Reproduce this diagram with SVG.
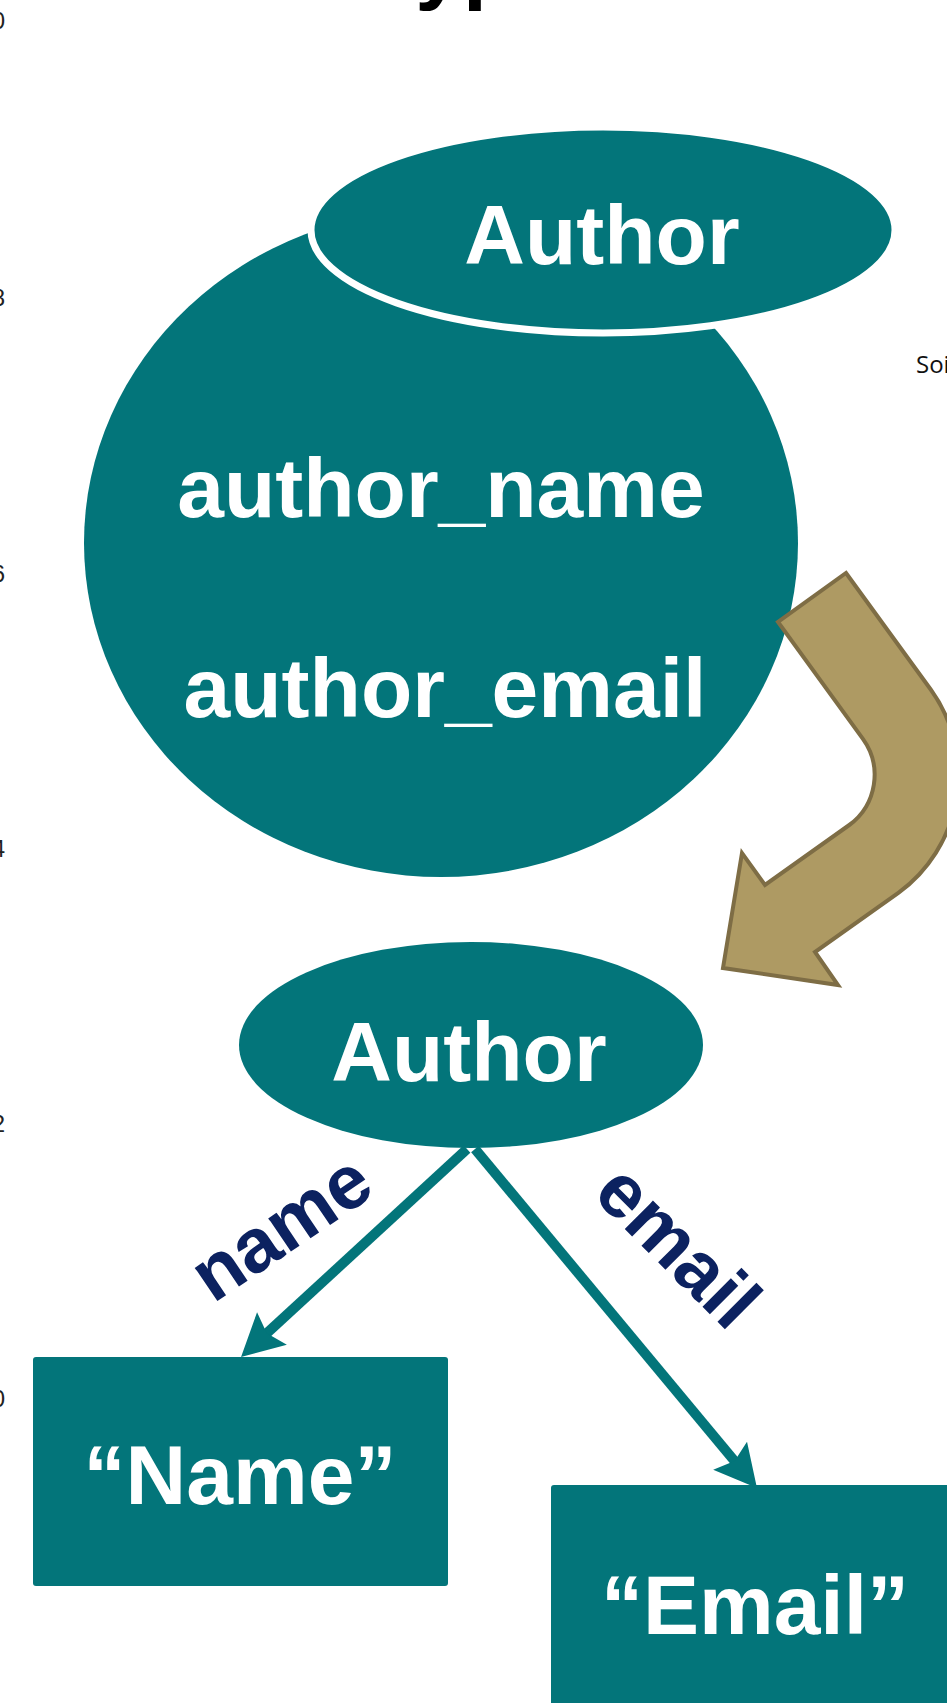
<svg xmlns="http://www.w3.org/2000/svg" width="947" height="1703" viewBox="0 0 947 1703">
  <defs>
    <style>
      .teal { fill: #03757a; }
      .lbl { font-family: "Liberation Sans", Arial, sans-serif; font-weight: bold; fill: #ffffff; text-anchor: middle; font-size: 84px; }
      .edge-lbl { font-family: "Liberation Sans", Arial, sans-serif; font-weight: bold; fill: #0c2260; text-anchor: middle; font-size: 76px; }
      .edge { stroke: #03757a; stroke-width: 10; fill: none; marker-end: url(#head); }
      .tick { font-family: "Liberation Sans", Arial, sans-serif; font-size: 24px; fill: #222; text-anchor: end; }
    </style>
    <marker id="head" markerUnits="userSpaceOnUse" orient="auto" viewBox="-44 -24 46 48" refX="-32" refY="0" markerWidth="46" markerHeight="48">
      <path d="M0,0 L-42,-22 L-35,0 L-42,22 Z" fill="#03757a"/>
    </marker>
  </defs>

  <!-- title, runs off the top edge -->
  <text x="369" y="-7" font-family="Liberation Sans, Arial, sans-serif" font-weight="bold" font-size="86" fill="#000">Types</text>

  <!-- axis tick labels cut by the left edge -->
  <g id="ticks">
    <text class="tick" x="5" y="29">10</text>
    <text class="tick" x="5" y="306">8</text>
    <text class="tick" x="5" y="582">6</text>
    <text class="tick" x="5" y="857">4</text>
    <text class="tick" x="5" y="1132">2</text>
    <text class="tick" x="5" y="1407">0</text>
  </g>

  <text x="916" y="373" font-family="Open Sans, sans-serif" font-size="24" fill="#111">Soi</text>

  <!-- record with two fields -->
  <g id="record">
    <ellipse class="teal" cx="441" cy="543" rx="357" ry="334"/>
    <text class="lbl" x="441" y="517">author_name</text>
    <text class="lbl" x="445" y="717">author_email</text>
  </g>

  <g id="record-type">
    <ellipse class="teal" cx="603" cy="230" rx="292" ry="103" stroke="#ffffff" stroke-width="7"/>
    <text class="lbl" x="602" y="264">Author</text>
  </g>

  <!-- bent block arrow -->
  <g id="transform-arrow">
    <path d="M846,573 L930.9,689.7 A146,146 0 0 1 898.7,892.7 L815,952 L838,985 L723,968 L742,853 L765,885 L849.3,825 A62,62 0 0 0 862.9,738.8 L778,622 Z" fill="#ae9a63" stroke="#7e6d45" stroke-width="4" stroke-linejoin="miter"/>
  </g>

  <g id="author">
    <ellipse class="teal" cx="471" cy="1045" rx="232" ry="103"/>
    <text class="lbl" x="469" y="1081">Author</text>
  </g>

  <g id="name">
    <rect class="teal" x="33" y="1357" width="415" height="229" rx="3"/>
    <text class="lbl" x="240" y="1504">“Name”</text>
  </g>

  <g id="email">
    <rect class="teal" x="551" y="1485" width="420" height="260" rx="3"/>
    <text class="lbl" x="755" y="1634">“Email”</text>
  </g>

  <g id="connectors">
    <path class="edge" d="M467,1149 L264.6,1335.3"/>
    <path class="edge" d="M475,1149 L736.5,1463.4"/>
    <text class="edge-lbl" transform="translate(284,1232) rotate(-34)" x="0" y="20">name</text>
    <text class="edge-lbl" transform="translate(674,1250) rotate(45)" x="0" y="20">email</text>
  </g>
</svg>
